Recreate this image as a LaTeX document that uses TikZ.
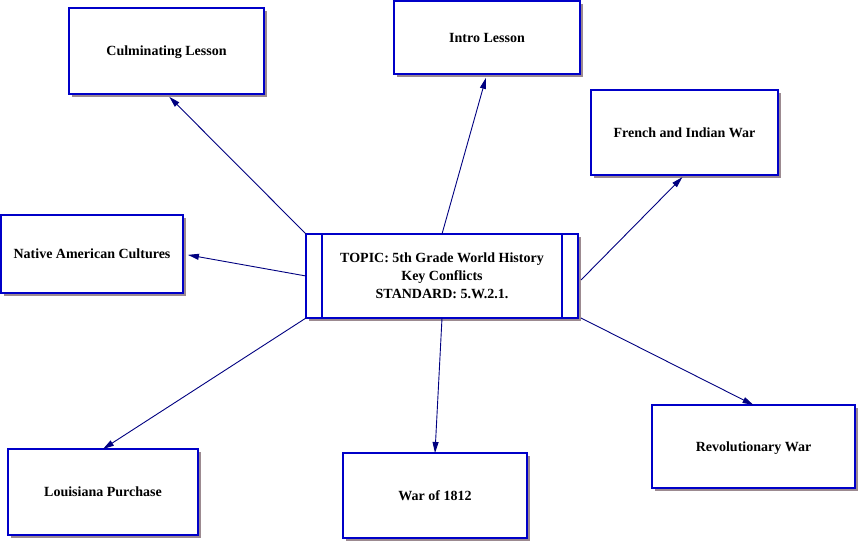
\documentclass[tikz,border=0pt]{standalone}
\usepackage{fontspec}
\setmainfont{Liberation Serif}
\usetikzlibrary{arrows.meta,positioning,shadows}
\definecolor{boxblue}{HTML}{0000C8}
\definecolor{linknavy}{HTML}{000080}
\definecolor{shadowgray}{HTML}{9C8A90}

\begin{document}
\begin{tikzpicture}[x=1pt, y=-1pt,
  topic/.style={draw=boxblue, line width=1.1pt, fill=white, outer sep=0pt,
    align=center, font=\fontsize{14}{18}\selectfont\bfseries, text depth=0pt,
    drop shadow={shadow xshift=3pt, shadow yshift=-3pt, fill=shadowgray, opacity=1}},
  link/.style={-{Triangle[length=11pt, width=6pt]}, linknavy, line width=0.9pt},
]
  \useasboundingbox (0,0) rectangle (861,541);

  \node[topic, minimum width=272pt, minimum height=84pt] (hub) at (442,276)
    {TOPIC: 5th Grade World History\\Key Conflicts\\STANDARD: 5.W.2.1.};
  \draw[boxblue, line width=1.1pt] ([xshift=16pt]hub.north west) -- ([xshift=16pt]hub.south west);
  \draw[boxblue, line width=1.1pt] ([xshift=-16pt]hub.north east) -- ([xshift=-16pt]hub.south east);

  \node[topic, minimum width=195pt, minimum height=86pt] (culm) at (166.5,51) {Culminating Lesson};
  \node[topic, minimum width=186pt, minimum height=73pt] (intro) at (487,37.5) {Intro Lesson};
  \node[topic, minimum width=187pt, minimum height=85pt] (french) at (684.5,132.5) {French and Indian War};
  \node[topic, minimum width=182pt, minimum height=78pt] (native) at (92,254) {Native American Cultures};
  \node[topic, minimum width=190pt, minimum height=86pt] (louis) at (103,492) {Louisiana Purchase};
  \node[topic, minimum width=184pt, minimum height=85pt] (war) at (435,495.5) {War of 1812};
  \node[topic, minimum width=203pt, minimum height=83pt] (rev) at (753.5,446.5) {Revolutionary War};

  % Links from the topic
  \draw[link, shorten >=4pt] (hub.north west) -- (culm.south);
  \draw[link, shorten >=4pt] (hub.north) -- (intro.south);
  \draw[link, shorten >=3pt] ([xshift=3pt, yshift=-4pt]hub.east) -- (french.south);
  \draw[link, shorten >=5pt] (hub.west) -- (native.east);
  \draw[link] (hub.south west) -- (louis.north);
  \draw[link] (hub.south) -- (war.north);
  \draw[link] ([xshift=3pt]hub.south east) -- (rev.north);
\end{tikzpicture}
\end{document}
